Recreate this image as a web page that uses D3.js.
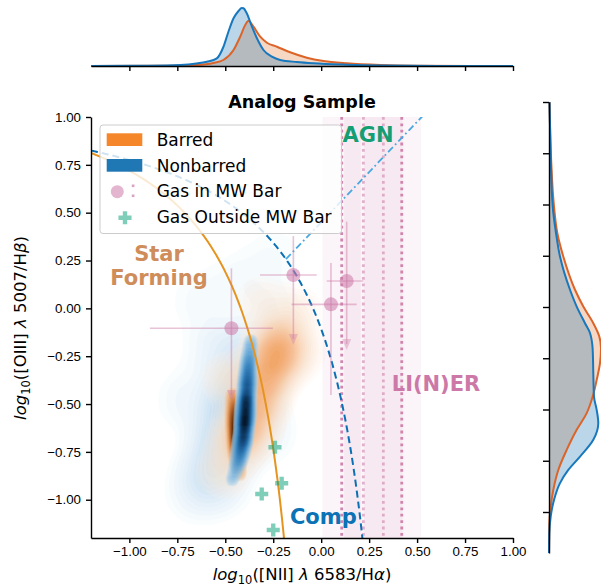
<!DOCTYPE html>
<html lang="en">
<head>
<meta charset="UTF-8">
<script src="https://cdn.jsdelivr.net/npm/d3@7"></script>
<title>Analog Sample</title>
<style>
  body { margin: 0; background: #fff; }
  svg { display: block; font-family: "DejaVu Sans", sans-serif; }
  .tick text { font-size: 13.3px; fill: #000; }
  .tick line, .domain { stroke: #000; stroke-width: 1.4px; }
  text { white-space: pre; }
</style>
</head>
<body>
<svg id="chart" width="601" height="586"></svg>
<script>
// ---------- data ----------
const axisTicks = [-1, -0.75, -0.5, -0.25, 0, 0.25, 0.5, 0.75, 1];

// BPT demarcation lines, a / (x - b) + c
const kauffmann = [0.61, 0.05, 1.3];
const kewley = [0.61, 0.47, 1.19];
const schawinski = [1.05, 0.45]; // slope, intercept

// galaxy samples (x, y, weight) for the 2d densities: dense ridge + broad spread
const nonbarredCore = [
  [-0.366, -0.165, 0.5], [-0.371, -0.217, 0.8], [-0.376, -0.270, 1.1], [-0.381, -0.322, 1.4],
  [-0.384, -0.374, 1.7], [-0.387, -0.426, 2.0], [-0.392, -0.479, 2.4], [-0.394, -0.531, 2.7],
  [-0.397, -0.583, 2.8], [-0.402, -0.635, 2.6], [-0.408, -0.688, 2.2], [-0.418, -0.740, 1.7],
  [-0.428, -0.792, 1.2], [-0.444, -0.844, 0.8], [-0.465, -0.897, 0.5]
];
const nonbarredSpread = [
  [-0.423, -0.479, 2.0], [-0.501, -0.688, 1.2], [-0.554, -0.870, 0.8], [-0.345, -0.270, 0.9],
  [-0.527, -0.217, 0.4], [-0.632, 0.044, 0.15], [-0.423, 0.148, 0.15], [-0.241, 0.279, 0.12],
  [-0.267, -0.008, 0.2], [-0.684, -0.479, 0.25], [-0.632, -0.949, 0.3], [-0.319, -0.635, 0.4]
];
const barredCore = [
  [-0.460, -0.453, 0.6], [-0.454, -0.505, 1.0], [-0.452, -0.557, 1.4], [-0.449, -0.609, 1.7],
  [-0.447, -0.662, 1.8], [-0.444, -0.714, 1.6], [-0.439, -0.766, 1.2], [-0.434, -0.818, 0.8],
  [-0.423, -0.870, 0.4]
];
const barredSpread = [
  [-0.293, -0.374, 1.0], [-0.256, -0.243, 0.9], [-0.215, -0.139, 0.6], [-0.329, -0.505, 0.8],
  [-0.189, -0.270, 0.4], [-0.371, -0.609, 0.6], [-0.423, -0.688, 0.8], [-0.136, -0.008, 0.2],
  [-0.110, -0.217, 0.2], [-0.319, 0.044, 0.15], [-0.501, -0.844, 0.3], [-0.475, -0.374, 0.3]
];

// marginal densities along x
const topNonbarredX = [-1.2, -0.9, -0.735, -0.65, -0.596, -0.544, -0.51, -0.484, -0.457, -0.431, -0.414, -0.405, -0.388, -0.361, -0.335, -0.301, -0.257, -0.214, -0.127, -0.04, 0.134, 0.308, 0.6, 1.0];
const topNonbarredD = [0, 0.03, 0.1, 0.25, 0.43, 0.77, 1.9, 3.4, 4.77, 5.5, 5.8, 5.77, 5.27, 3.93, 2.77, 1.6, 0.93, 0.6, 0.4, 0.27, 0.13, 0.05, 0.01, 0];
const topBarredX = [-1.2, -0.8, -0.65, -0.562, -0.51, -0.457, -0.423, -0.396, -0.379, -0.353, -0.318, -0.283, -0.231, -0.162, -0.075, 0.012, 0.134, 0.308, 0.5, 1.0];
const topBarredD = [0, 0.03, 0.1, 0.3, 0.6, 1.6, 2.9, 4.1, 4.53, 3.93, 2.93, 2.33, 1.93, 1.37, 0.83, 0.5, 0.27, 0.1, 0.03, 0];

// marginal densities along y
const sideNonbarredY = [1.0, 0.735, 0.49, 0.361, 0.246, 0.084, 0.002, -0.079, -0.127, -0.209, -0.323, -0.437, -0.502, -0.567, -0.648, -0.73, -0.795, -0.859, -0.941, -1.022, -1.103, -1.2];
const sideNonbarredD = [0.05, 0.17, 0.37, 0.7, 1.1, 2.1, 2.77, 3.6, 4.1, 4.37, 4.43, 4.5, 4.77, 4.93, 4.43, 3.1, 1.93, 1.1, 0.5, 0.17, 0.03, 0];
const sideBarredY = [1.0, 0.735, 0.49, 0.361, 0.246, 0.084, 0.002, -0.079, -0.144, -0.201, -0.274, -0.355, -0.437, -0.518, -0.599, -0.697, -0.795, -0.892, -0.974, -1.055, -1.2];
const sideBarredD = [0.05, 0.2, 0.5, 0.83, 1.43, 2.6, 3.43, 4.43, 5.03, 5.2, 5.1, 4.77, 4.37, 3.77, 2.77, 1.77, 0.93, 0.43, 0.17, 0.03, 0];

// gas in the MW bar, points with errors
const barGasX = [-0.468, -0.145, 0.051, 0.133];
const barGasY = [-0.104, 0.174, 0.021, 0.143];
const barGasXErrLo = [0.425, 0.174, 0.205, 0.104];
const barGasXErrHi = [0.216, 0.122, 0.134, 0.087];
const barGasYErrHi = [0.313, 0.204, 0.216, 0.31];
const barGasYErrLo = [0.38, 0.365, 0.474, 0.361];
const barGasUpperLim = [true, true, false, true];
// gas in the MW bar, only [NII]/Ha known
const barGasLineX = [0.107, 0.22, 0.324, 0.42];
const barGasLineErr = [0.1, 0.1, 0.1, 0.1];

// gas outside the MW bar
const outGasX = [-0.241, -0.206, -0.31, -0.25];
const outGasY = [-0.726, -0.914, -0.97, -1.158];

const legendLabels = ["Barred", "Nonbarred", "Gas in MW Bar", "Gas Outside MW Bar"];

// ---------- layout ----------
const svg = d3.select("#chart");
const M = { left: 91, right: 513, top: 117, bottom: 538 };

const x = d3.scaleLinear().domain([-1.2, 1.0]).range([M.left, M.right]);
const y = d3.scaleLinear().domain([-1.2, 1.0]).range([M.bottom, M.top]);
const ySide = d3.scaleLinear().domain([-1.2, 1.0]).range([553, 102]);
const topD = d3.scaleLinear().domain([0, 5.8]).range([66, 8]);
const sideD = d3.scaleLinear().domain([0, 5.2]).range([549, 601]);

const orangeLine = "#dc6428", blueLine = "#1878be";
const pink = "#cc79a7", green = "#009e73";

svg.append("clipPath").attr("id", "plotclip")
  .append("rect").attr("x", M.left).attr("y", M.top)
  .attr("width", M.right - M.left).attr("height", M.bottom - M.top);

const plot = svg.append("g").attr("clip-path", "url(#plotclip)");

// ---------- 2d densities ----------
function drawDensity(pts, bw, colors, n, op, fmin) {
  const dens = d3.contourDensity()
    .x(d => x(d[0])).y(d => y(d[1])).weight(d => d[2])
    .size([601, 586]).cellSize(2).bandwidth(bw);
  const probe = dens.thresholds(120)(pts);
  const max = d3.max(probe, c => c.value);
  const fr = d3.range(n).map(i => fmin + (0.97 - fmin) * Math.pow(i / (n - 1), 1.3));
  const ramp = d3.piecewise(d3.interpolateRgb, colors);
  const cs = dens.thresholds(fr.map(f => f * max))(pts);
  plot.append("g").selectAll("path").data(cs).join("path")
    .attr("d", d3.geoPath())
    .attr("fill", (d, i) => ramp(i / (n - 1)))
    .attr("fill-opacity", op);
}
drawDensity(nonbarredSpread, 18, ["#e8f3fa", "#cae3f3", "#a2cceb", "#78b3de"], 18, 0.2, 0.03);
drawDensity(barredSpread, 14, ["#fdf0e4", "#fbd9bb", "#f6b680", "#ee9550"], 22, 0.2, 0.03);
drawDensity(barredCore, 4, ["#f6cfa6", "#e8995a", "#b8601f", "#5a2808", "#000000"], 22, 0.25, 0.08);
drawDensity(nonbarredCore, 4.5, ["#b3d6ee", "#5aa3d8", "#1f70b0", "#0c3a66", "#000000"], 28, 0.25, 0.07);

// ---------- MW bar [NII]/Ha bands and lines ----------
plot.append("g").selectAll("rect").data(d3.zip(barGasLineX, barGasLineErr)).join("rect")
  .attr("x", d => x(d[0] - d[1])).attr("width", d => x(d[0] + d[1]) - x(d[0] - d[1]))
  .attr("y", M.top).attr("height", M.bottom - M.top)
  .attr("fill", pink).attr("fill-opacity", 0.08);

const lineOpacity = [0.9, 0.55, 0.55, 0.9];
plot.append("g").selectAll("line").data(barGasLineX).join("line")
  .attr("x1", d => x(d)).attr("x2", d => x(d))
  .attr("y1", M.top).attr("y2", M.bottom)
  .attr("stroke", pink).attr("stroke-width", 2.8)
  .attr("stroke-dasharray", "2.8,3.6")
  .attr("stroke-opacity", (d, i) => lineOpacity[i]);

// ---------- demarcation lines ----------
const hyper = p => v => p[0] / (v - p[1]) + p[2];
const kauf = hyper(kauffmann), kew = hyper(kewley);
const sch = v => schawinski[0] * v + schawinski[1];

const line = d3.line().x(d => x(d[0])).y(d => y(d[1]));

plot.append("path")
  .attr("d", line(d3.range(-1.2, -0.17, 0.004).map(v => [v, kauf(v)])))
  .attr("fill", "none").attr("stroke", "#e69420").attr("stroke-width", 2);

plot.append("path")
  .attr("d", line(d3.range(-1.2, 0.235, 0.004).map(v => [v, kew(v)])))
  .attr("fill", "none").attr("stroke", "#0a6fb5").attr("stroke-width", 2)
  .attr("stroke-dasharray", "7,4");

// where the Schawinski line meets the Kewley curve
let lo = -0.6, hi = 0.2;
for (let k = 0; k < 40; k++) {
  const mid = (lo + hi) / 2;
  if (kew(mid) - sch(mid) > 0) lo = mid; else hi = mid;
}
plot.append("path")
  .attr("d", line(d3.range(lo, 0.62, 0.01).map(v => [v, sch(v)])))
  .attr("fill", "none").attr("stroke", "#4aa8e0").attr("stroke-width", 1.8)
  .attr("stroke-dasharray", "7,3,1.8,3");

// ---------- gas in MW bar, error bars ----------
const eb = plot.append("g").attr("stroke", pink).attr("stroke-opacity", 0.45).attr("stroke-width", 1.6);
barGasX.forEach((vx, i) => {
  const vy = barGasY[i];
  eb.append("line")
    .attr("x1", x(vx - barGasXErrLo[i])).attr("x2", x(vx + barGasXErrHi[i]))
    .attr("y1", y(vy)).attr("y2", y(vy));
  const tip = y(vy - barGasYErrLo[i]);
  eb.append("line")
    .attr("x1", x(vx)).attr("x2", x(vx))
    .attr("y1", y(vy + barGasYErrHi[i])).attr("y2", barGasUpperLim[i] ? tip - 6 : tip);
  if (barGasUpperLim[i]) {
    plot.append("path")
      .attr("d", `M${x(vx) - 4.5},${tip - 11}L${x(vx) + 4.5},${tip - 11}L${x(vx)},${tip}Z`)
      .attr("fill", pink).attr("fill-opacity", 0.35);
  }
});
plot.append("g").selectAll("circle").data(d3.zip(barGasX, barGasY)).join("circle")
  .attr("cx", d => x(d[0])).attr("cy", d => y(d[1])).attr("r", 7)
  .attr("fill", pink).attr("fill-opacity", 0.55);

// ---------- gas outside MW bar ----------
const plus = d3.symbol(d3.symbolCross, 95);
plot.append("g").selectAll("path").data(d3.zip(outGasX, outGasY)).join("path")
  .attr("transform", d => `translate(${x(d[0])},${y(d[1])})`)
  .attr("d", plus).attr("fill", green).attr("fill-opacity", 0.5);

// ---------- axes ----------
svg.append("g").attr("transform", `translate(0,${M.bottom})`)
  .call(d3.axisBottom(x).tickValues(axisTicks).tickFormat(d3.format(".2f"))
    .tickSize(5).tickSizeOuter(0).tickPadding(4));
svg.append("g").attr("transform", `translate(${M.left},0)`)
  .call(d3.axisLeft(y).tickValues(axisTicks).tickFormat(d3.format(".2f"))
    .tickSize(5).tickSizeOuter(0).tickPadding(5));

// ---------- marginals ----------
const topArea = d3.area().x(d => x(d[0])).y0(66).y1(d => topD(d[1])).curve(d3.curveMonotoneX);
const topLine = topArea.lineY1();
const sideArea = d3.area().y(d => ySide(d[0])).x0(549).x1(d => sideD(d[1])).curve(d3.curveMonotoneY);
const sideLine = sideArea.lineX1();

const topB = d3.zip(topBarredX, topBarredD), topN = d3.zip(topNonbarredX, topNonbarredD);
const sideB = d3.zip(sideBarredY, sideBarredD), sideN = d3.zip(sideNonbarredY, sideNonbarredD);

svg.append("path").attr("d", topArea(topB)).attr("fill", "#dd6a26").attr("fill-opacity", 0.27);
svg.append("path").attr("d", topArea(topN)).attr("fill", "#1f77b4").attr("fill-opacity", 0.3);
svg.append("path").attr("d", topLine(topB)).attr("fill", "none").attr("stroke", orangeLine).attr("stroke-width", 2);
svg.append("path").attr("d", topLine(topN)).attr("fill", "none").attr("stroke", blueLine).attr("stroke-width", 2);

svg.append("path").attr("d", sideArea(sideB)).attr("fill", "#dd6a26").attr("fill-opacity", 0.27);
svg.append("path").attr("d", sideArea(sideN)).attr("fill", "#1f77b4").attr("fill-opacity", 0.3);
svg.append("path").attr("d", sideLine(sideB)).attr("fill", "none").attr("stroke", orangeLine).attr("stroke-width", 2);
svg.append("path").attr("d", sideLine(sideN)).attr("fill", "none").attr("stroke", blueLine).attr("stroke-width", 2);

svg.append("g").attr("transform", "translate(0,66)")
  .call(d3.axisBottom(x).tickValues(axisTicks).tickFormat("").tickSize(5).tickSizeOuter(0));
svg.append("g").attr("transform", "translate(549,0)")
  .call(d3.axisLeft(ySide).tickValues(axisTicks).tickFormat("").tickSize(6).tickSizeOuter(0));

// ---------- legend ----------
const lg = svg.append("g");
lg.append("rect").attr("x", 100).attr("y", 125).attr("width", 241.5).attr("height", 108.5)
  .attr("rx", 3).attr("fill", "#fff").attr("fill-opacity", 0.8)
  .attr("stroke", "#cccccc").attr("stroke-width", 1);
lg.append("rect").attr("x", 106.7).attr("y", 133.3).attr("width", 35.6).attr("height", 12.7).attr("fill", "#f5862a");
lg.append("rect").attr("x", 106.7).attr("y", 159).attr("width", 35.6).attr("height", 12.7).attr("fill", "#1f77b4");
lg.append("circle").attr("cx", 117.3).attr("cy", 191.7).attr("r", 6.5).attr("fill", pink).attr("fill-opacity", 0.55);
lg.append("rect").attr("x", 131.8).attr("y", 184.5).attr("width", 2.6).attr("height", 2.6).attr("fill", pink).attr("fill-opacity", 0.7);
lg.append("rect").attr("x", 131.8).attr("y", 194.5).attr("width", 2.6).attr("height", 2.6).attr("fill", pink).attr("fill-opacity", 0.7);
lg.append("path").attr("transform", "translate(125,217.7)").attr("d", plus)
  .attr("fill", green).attr("fill-opacity", 0.5);
lg.selectAll("text").data(legendLabels).join("text")
  .attr("x", 156.7).attr("y", (d, i) => 146 + i * 25.5)
  .style("font-size", "17px").text(d => d);

// ---------- region labels ----------
const label = (t, cx, by, color) => svg.append("text")
  .attr("x", cx).attr("y", by).attr("text-anchor", "middle")
  .style("font-size", "21px").style("font-weight", "bold").attr("fill", color).text(t);
label("AGN", 368, 141.7, "#159e73");
label("Star", 159, 261, "#cf8d5b");
label("Forming", 159, 284.5, "#cf8d5b");
label("Comp", 323.3, 524.3, "#0b72b5");
label("LI(N)ER", 436, 391, "#cc79a7");

// ---------- title and axis labels ----------
svg.append("text").attr("x", 302).attr("y", 108).attr("text-anchor", "middle")
  .style("font-size", "17.5px").style("font-weight", "bold").text("Analog Sample");

function mathLabel(sel, ion, wave, line) {
  sel.append("tspan").style("font-style", "italic").text("log");
  sel.append("tspan").attr("dy", 4).style("font-size", "11.5px").text("10");
  sel.append("tspan").attr("dy", -4).text(`([${ion}] `);
  sel.append("tspan").style("font-style", "italic").text("λ");
  sel.append("tspan").text(` ${wave}/H`);
  sel.append("tspan").style("font-style", "italic").text(line);
  sel.append("tspan").text(")");
}
mathLabel(svg.append("text").attr("x", 302).attr("y", 580).attr("text-anchor", "middle")
  .style("font-size", "16.5px"), "NII", "6583", "α");
mathLabel(svg.append("text").attr("transform", "translate(26,328) rotate(-90)")
  .attr("text-anchor", "middle").style("font-size", "16.5px"), "OIII", "5007", "β");
</script>
</body>
</html>
